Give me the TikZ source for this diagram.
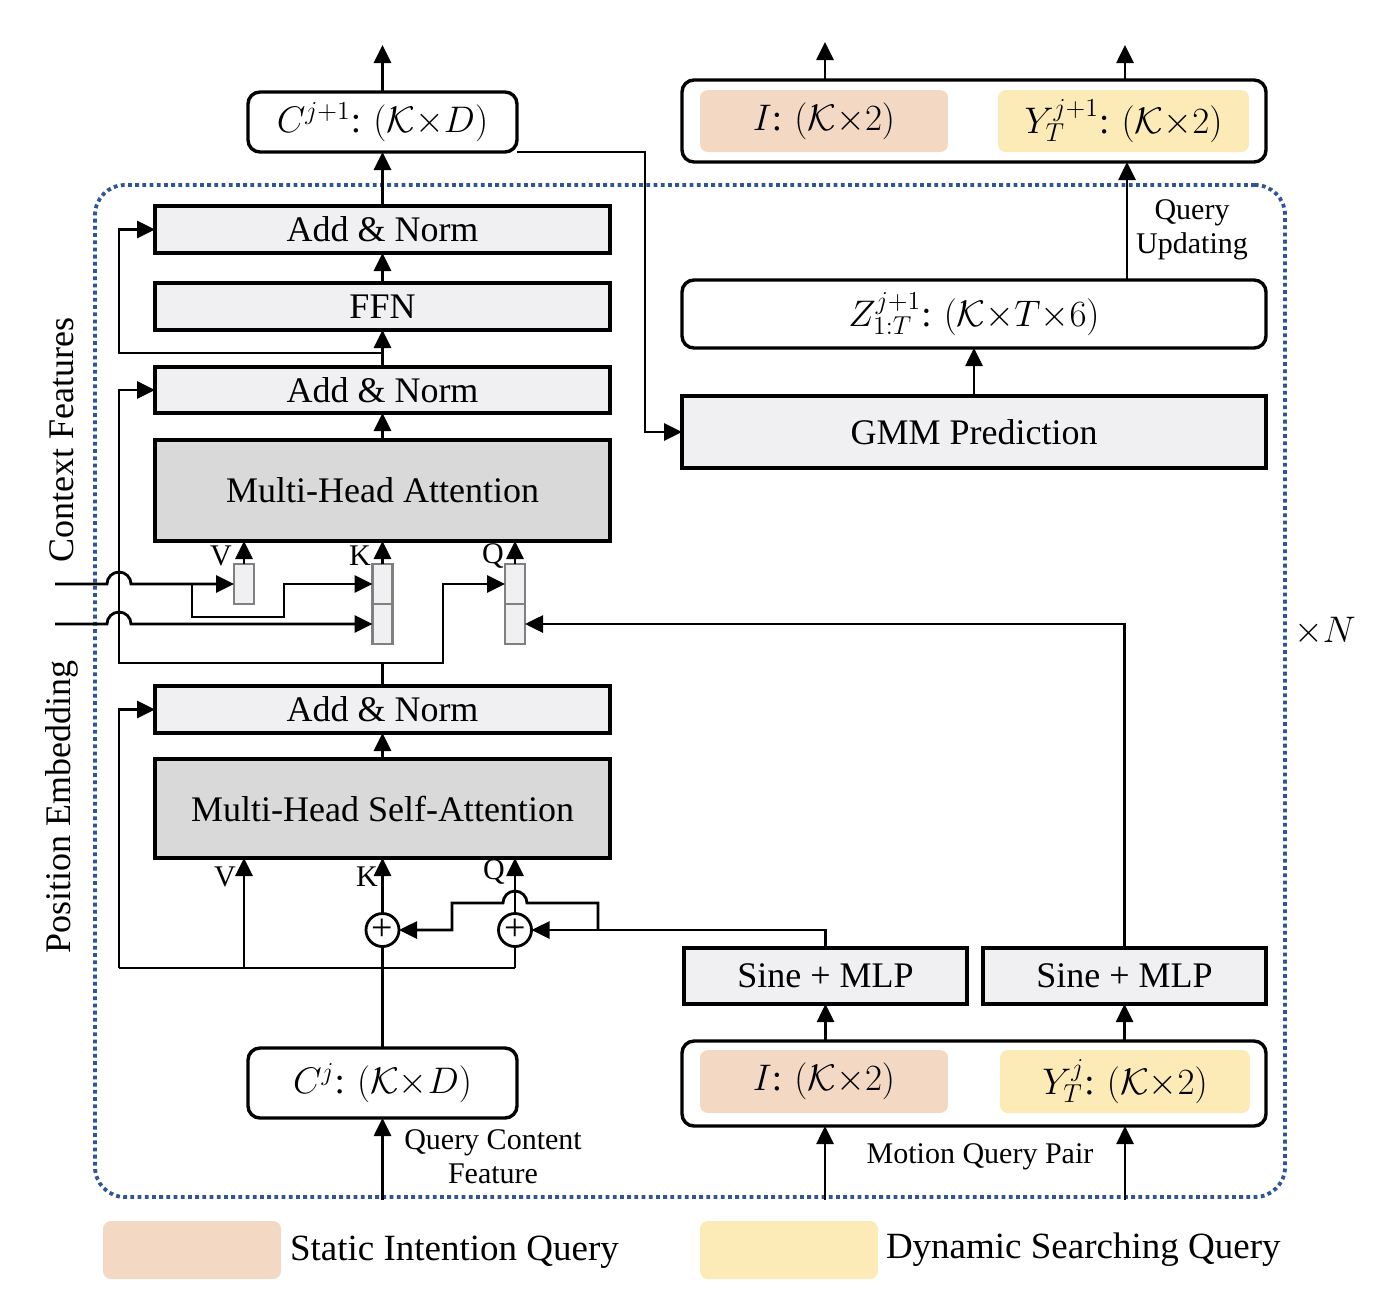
\RequirePackage{fix-cm}
\documentclass[tikz,border=0pt]{standalone}
\usepackage{fontspec}
\setmainfont{Liberation Serif}
\usetikzlibrary{arrows.meta,calc}
\definecolor{boxgray}{HTML}{F0F0F2}
\definecolor{darkgrayb}{HTML}{D9D9D9}
\definecolor{orangeq}{HTML}{F3D8C3}
\definecolor{yellowq}{HTML}{FCEBB7}
\definecolor{framec}{HTML}{2F5597}
\definecolor{smallb}{HTML}{808080}
\newcommand\bxnode[7]{%
 \pgfmathsetmacro\bxcx{(#3+#5)/2}%
 \pgfmathsetmacro\bxcy{(#4+#6)/2}%
 \pgfmathsetmacro\bxw{(#5-#3)/2}%
 \pgfmathsetmacro\bxh{(#6-#4)/2}%
 \node[#2,minimum width=\bxw pt,minimum height=\bxh pt] (#1) at (\bxcx,\bxcy) {#7};}
\begin{document}
\begin{tikzpicture}[x=0.5pt,y=-0.5pt,
 every node/.style={inner sep=0pt,outer sep=0pt,font=\fontsize{18}{22}\selectfont},
 mathfont/.style={font=\fontsize{18.5}{22}\selectfont},
 graybox/.style={draw,line width=1.7pt,fill=boxgray},
 darkbox/.style={draw,line width=1.7pt,fill=darkgrayb},
 rbox/.style={draw,line width=1.7pt,fill=white,rounded corners=6pt,mathfont},
 smallbox/.style={draw=smallb,line width=1.3pt,fill=boxgray},
 qo/.style={fill=orangeq,rounded corners=4pt,mathfont},
 qy/.style={fill=yellowq,rounded corners=4pt,mathfont},
 framebox/.style={draw=framec,line width=1.9pt,dash pattern=on 1.9pt off 1.7pt,rounded corners=15pt},
 conn/.style={line width=1.4pt},
 arr/.style={-{Triangle[length=9pt,width=8.5pt]}},
 lab/.style={font=\fontsize{15}{17}\selectfont,align=center},
 plusc/.style={draw,circle,line width=1.4pt,minimum size=16.5pt,fill=white,font=\fontsize{19}{19}\selectfont}
]
\useasboundingbox (0,0) rectangle (1384,1314);
\fill[white] (0,0) rectangle (1384,1314);
% frame
\bxnode{frame}{framebox}{95}{185}{1285}{1197}{}
% left column
\bxnode{cnext}{rbox}{248}{92}{517}{152}{\(C^{j+1}\): \((\mathcal{K}{\times}D)\)}
\bxnode{an3}{graybox}{155}{206}{610}{253}{Add \& Norm}
\bxnode{ffn}{graybox}{155}{283}{610}{330}{FFN}
\bxnode{an2}{graybox}{155}{367}{610}{413}{Add \& Norm}
\bxnode{mha}{darkbox}{155}{440}{610}{541}{Multi-Head Attention}
\bxnode{vbox}{smallbox}{234}{564}{254}{604}{}
\bxnode{k1}{smallbox}{372.5}{564}{392.5}{604}{}
\bxnode{k2}{smallbox}{372.5}{604}{392.5}{644}{}
\bxnode{q1}{smallbox}{505}{564}{525}{604}{}
\bxnode{q2}{smallbox}{505}{604}{525}{644}{}
\bxnode{an1}{graybox}{155}{686}{610}{733}{Add \& Norm}
\bxnode{mhsa}{darkbox}{155}{759}{610}{858}{Multi-Head Self-Attention}
\node[plusc] (pk) at (382.5,930) {+};
\node[plusc] (pq) at (515,930) {+};
\bxnode{cj}{rbox}{248}{1048}{517}{1118}{\(C^{j}\): \((\mathcal{K}{\times}D)\)}
% right column
\bxnode{outbox}{rbox}{682}{80}{1266}{162}{}
\bxnode{itop}{qo}{700}{90}{948}{152}{\(I\): \((\mathcal{K}{\times}2)\)}
\bxnode{ytop}{qy}{998}{90}{1249}{152}{\(Y_T^{j+1}\): \((\mathcal{K}{\times}2)\)}
\bxnode{z}{rbox}{682}{280}{1266}{348}{\(Z_{1:T}^{j+1}\): \((\mathcal{K}{\times}T{\times}6)\)}
\bxnode{gmm}{graybox}{682}{396}{1266}{468}{GMM Prediction}
\bxnode{sm1}{graybox}{684}{948}{967}{1004}{Sine + MLP}
\bxnode{sm2}{graybox}{983}{948}{1266}{1004}{Sine + MLP}
\bxnode{inbox}{rbox}{682}{1041}{1266}{1126}{}
\bxnode{ibot}{qo}{700}{1050}{948}{1113}{\(I\): \((\mathcal{K}{\times}2)\)}
\bxnode{ybot}{qy}{1000}{1050}{1250}{1113}{\(Y_T^{j}\): \((\mathcal{K}{\times}2)\)}
% legend
\bxnode{leg1}{qo}{103}{1221}{281}{1279}{}
\bxnode{leg2}{qy}{700}{1221}{878}{1279}{}
\node[anchor=west,font=\fontsize{18.5}{22}\selectfont] (leg1t) at (290,1252) {Static Intention Query};
\node[anchor=west,font=\fontsize{18.5}{22}\selectfont] (leg2t) at (886,1250) {Dynamic Searching Query};
% labels
\node[rotate=90] (ctxl) at (62,440) {Context Features};
\node[rotate=90] (posl) at (62,807) {Position Embedding};
\node[lab] (vl1) at (221,556) {V};
\node[lab] (kl1) at (360,556) {K};
\node[lab] (ql1) at (493,556) {Q};
\node[lab] (vl2) at (225,877) {V};
\node[lab] (kl2) at (367,877) {K};
\node[lab] (ql2) at (494,872) {Q};
\node[lab] (qcf) at (493,1157) {Query Content\\Feature};
\node[lab] (mqp) at (980,1157) {Motion Query Pair};
\node[lab] (qup) at (1192,230) {Query\\Updating};
\node[mathfont] (xn) at (1325,631) {\(\times N\)};
% coordinates
\coordinate (outC) at (382.5,45);
\coordinate (o1) at (825,42);
\coordinate (o2) at (1125,45);
\coordinate (j3) at (382.5,353);
\coordinate (l3a) at (119,353);
\coordinate (l3b) at (119,229.5);
\coordinate (j2) at (382.5,663);
\coordinate (l2b) at (119,390);
\coordinate (qr) at (443,584);
\coordinate (ctx) at (55,584);
\coordinate (pos) at (55,624);
\coordinate (cb) at (192,584);
\coordinate (cbr) at (284,584);
\coordinate (bl) at (119,968);
\coordinate (br) at (515,968);
\coordinate (bv) at (244,968);
\coordinate (br1) at (598,930);
\coordinate (kr) at (452,930);
\coordinate (zq) at (1127,280);
\coordinate (gc) at (645,432);
\coordinate (in1) at (825,1200);
\coordinate (in2) at (1125,1200);
\coordinate (in3) at (382.5,1200);
% connectors: top left
\draw[conn,arr] (an3.north) -- (cnext.south);
\draw[conn,arr] (cnext.north) -- (outC);
\draw[conn,arr] (ffn.north) -- (an3.south);
\draw[conn,arr] (an2.north) -- (ffn.south);
\draw[conn,arr] (j3) -- (l3a) -- (l3b) -- (an3.west);
\draw[conn,arr] (mha.north) -- (an2.south);
\draw[conn,arr] (vbox.north) -- (vbox.north |- mha.south);
\draw[conn,arr] (k1.north) -- (k1.north |- mha.south);
\draw[conn,arr] (q1.north) -- (q1.north |- mha.south);
\draw[conn] (an1.north) -- (j2);
\draw[conn,arr] (j2) -| (l2b) -- (an2.west);
\draw[conn,arr] (j2) -| (qr) -- (q1.west);
\draw[conn,arr] (ctx) -- ++(52,0) arc[start angle=180,end angle=0,radius=6pt] -- (vbox.west);
\draw[conn,arr] (cb) -- ++(0,33) -| (cbr) -- (k1.west);
\draw[conn,arr] (pos) -- ++(52,0) arc[start angle=180,end angle=0,radius=6pt] -- (k2.west);
\draw[conn,arr] (sm2.north) |- (q2.east);
% bottom left
\draw[conn,arr] (mhsa.north) -- (an1.south);
\draw[conn] (cj.north) -- (pk.south);
\draw[conn] (bl) -- (br);
\draw[conn] (br) -- (pq.south);
\draw[conn,arr] (bv) -- (bv |- mhsa.south);
\draw[conn,arr] (bl) |- (an1.west);
\draw[conn,arr] (pk.north) -- (pk.north |- mhsa.south);
\draw[conn,arr] (pq.north) -- (pq.north |- mhsa.south);
\draw[conn,arr] (sm1.north) |- (pq.east);
\draw[conn,arr] (br1) -- ++(0,-27) -- ++(-71,0) arc[start angle=0,end angle=180,radius=6pt] -| (kr) -- (pk.east);
\draw[conn,arr] (in3) -- (cj.south);
% right
\draw[conn,arr] (gmm.north) -- (z.south);
\draw[conn,arr] (zq) -- (zq |- outbox.south);
\draw[conn,arr] (cnext.south east) -| (gc) -- (gmm.west);
\draw[conn,arr] (o1 |- outbox.north) -- (o1);
\draw[conn,arr] (o2 |- outbox.north) -- (o2);
\draw[conn,arr] (sm1.south |- inbox.north) -- (sm1.south);
\draw[conn,arr] (sm2.south |- inbox.north) -- (sm2.south);
\draw[conn,arr] (in1) -- (in1 |- inbox.south);
\draw[conn,arr] (in2) -- (in2 |- inbox.south);
\end{tikzpicture}
\end{document}
